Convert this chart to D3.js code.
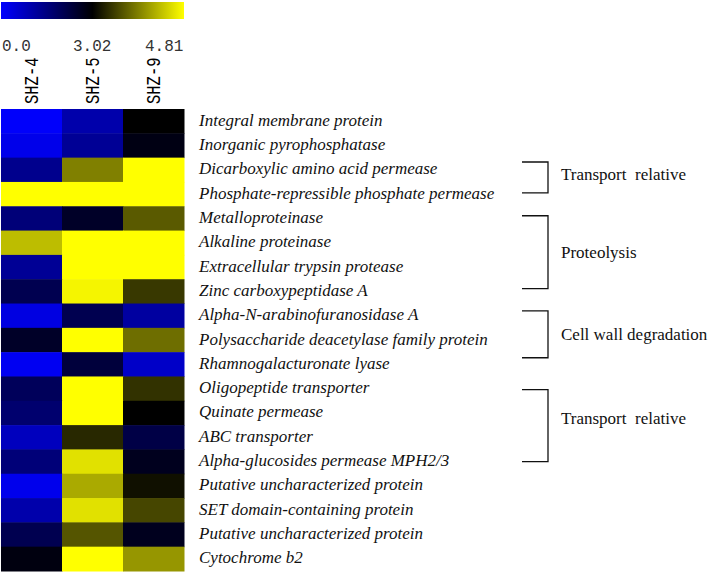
<!DOCTYPE html>
<html><head><meta charset="utf-8">
<script src="https://cdn.jsdelivr.net/npm/d3@7"></script>
<style>html,body{margin:0;padding:0;background:#fff;}</style>
</head><body>
<svg id="chart" width="714" height="574"></svg>
<script>
const samples = ["SHZ-4", "SHZ-5", "SHZ-9"];
const genes = [
  "Integral membrane protein",
  "Inorganic pyrophosphatase",
  "Dicarboxylic amino acid permease",
  "Phosphate-repressible phosphate permease",
  "Metalloproteinase",
  "Alkaline proteinase",
  "Extracellular trypsin protease",
  "Zinc carboxypeptidase A",
  "Alpha-N-arabinofuranosidase A",
  "Polysaccharide deacetylase family protein",
  "Rhamnogalacturonate lyase",
  "Oligopeptide transporter",
  "Quinate permease",
  "ABC transporter",
  "Alpha-glucosides permease MPH2/3",
  "Putative uncharacterized protein",
  "SET domain-containing protein",
  "Putative uncharacterized protein",
  "Cytochrome b2"
];
const valuesSHZ4 = [0.05, 0.25, 1.35, 4.81, 1.6, 4.35, 1.25, 2.07, 0.35, 2.55, 0.15, 1.95, 1.72, 0.77, 1.6, 0.22, 1.0, 2.07, 2.84];
const valuesSHZ5 = [1.0, 1.25, 3.92, 4.81, 2.55, 4.81, 4.81, 4.74, 2.07, 4.81, 2.31, 4.81, 4.81, 3.3, 4.6, 4.21, 4.6, 3.62, 4.81];
const valuesSHZ9 = [3.02, 2.8, 4.81, 4.81, 3.65, 4.81, 4.81, 3.41, 1.13, 3.79, 0.65, 3.37, 3.02, 2.19, 2.66, 3.13, 3.51, 2.66, 4.07];
const scaleTicks = [0.0, 3.02, 4.81];
const scaleTickLabels = ["0.0", "3.02", "4.81"];
const groupLabels = ["Transport  relative", "Proteolysis", "Cell wall degradation", "Transport  relative"];
const groupFrom = [2.18, 4.39, 8.3, 11.54];
const groupTo = [3.45, 7.39, 10.23, 14.5];
const groupLabelRow = [2.71, 5.92, 9.29, 12.74];

const seriesValues = [valuesSHZ4, valuesSHZ5, valuesSHZ9];
const cells = [];
genes.forEach((g, r) => samples.forEach((s, c) => cells.push({r, c, v: seriesValues[c][r]})));

const svg = d3.select("#chart");
const color = d3.scaleLinear().domain(scaleTicks).range(["#0000ff", "#000000", "#ffff00"]).clamp(true);

const x = d3.scaleBand().domain(d3.range(samples.length)).range([1, 184]);
const y = d3.scaleBand().domain(d3.range(genes.length)).range([109, 571]);
const yr = d3.scaleLinear().domain([0, genes.length]).range([109, 571]);

// Color bar
const defs = svg.append("defs");
const grad = defs.append("linearGradient").attr("id", "cbar").attr("x1", "0%").attr("x2", "100%");
grad.selectAll("stop").data(scaleTicks).join("stop")
  .attr("offset", (d, i) => (i / (scaleTicks.length - 1) * 100) + "%")
  .attr("stop-color", d => color(d));
svg.append("rect").attr("x", 1).attr("y", 2).attr("width", 183).attr("height", 17).attr("fill", "url(#cbar)");

svg.selectAll("text.tick").data(scaleTickLabels).join("text")
  .attr("class", "tick")
  .attr("x", (d, i) => [2, 73, 145][i])
  .attr("y", 51)
  .attr("font-family", "Liberation Mono, monospace")
  .attr("font-size", 16)
  .attr("fill", "#333")
  .text(d => d);

// Column labels
svg.selectAll("text.col").data(samples).join("text")
  .attr("class", "col")
  .attr("transform", (d, i) => `translate(${x(i) + x.bandwidth() / 2 + 6},104) rotate(-90) scale(1,1.3)`)
  .attr("font-family", "Liberation Mono, monospace")
  .attr("font-size", 15.5)
  .attr("fill", "#000")
  .text(d => d);

// Heatmap cells
svg.selectAll("rect.cell").data(cells).join("rect")
  .attr("class", "cell")
  .attr("x", d => x(d.c))
  .attr("y", d => y(d.r))
  .attr("width", x.bandwidth() + 0.5)
  .attr("height", y.bandwidth() + 0.5)
  .attr("fill", d => color(d.v));

// Row labels
svg.selectAll("text.row").data(genes).join("text")
  .attr("class", "row")
  .attr("x", 199)
  .attr("y", (d, i) => y(i) + y.bandwidth() / 2 + 4.5)
  .attr("font-family", "Liberation Serif, Times New Roman, serif")
  .attr("font-style", "italic")
  .attr("font-size", 17)
  .attr("fill", "#111")
  .text(d => d);

// Group brackets
const groups = groupLabels.map((l, i) => ({label: l, from: groupFrom[i], to: groupTo[i], at: groupLabelRow[i]}));
svg.selectAll("path.bracket").data(groups).join("path")
  .attr("class", "bracket")
  .attr("d", d => `M522,${yr(d.from)}H548V${yr(d.to)}H522`)
  .attr("fill", "none")
  .attr("stroke", "#111")
  .attr("stroke-width", 1.3);

svg.selectAll("text.group").data(groups).join("text")
  .attr("class", "group")
  .attr("x", 561)
  .attr("y", d => yr(d.at) + 5)
  .attr("font-family", "Liberation Serif, Times New Roman, serif")
  .attr("font-size", 17)
  .attr("fill", "#111")
  .style("white-space", "pre")
  .attr("xml:space", "preserve")
  .text(d => d.label);
</script>
</body></html>
